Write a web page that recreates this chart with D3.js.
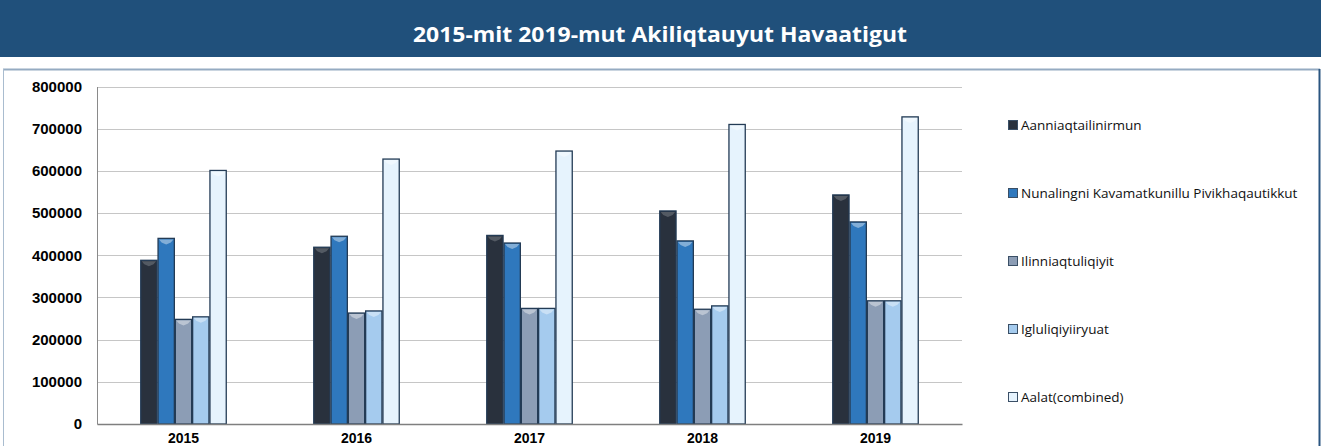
<!DOCTYPE html>
<html>
<head>
<meta charset="utf-8">
<script src="https://cdn.jsdelivr.net/npm/d3@7"></script>
<style>
  body { margin: 0; background: #fff; }
</style>
</head>
<body>
<div id="chart"></div>
<script>
// data
var years = ["2015", "2016", "2017", "2018", "2019"];
var seriesNames = ["Aanniaqtailinirmun", "Nunalingni Kavamatkunillu Pivikhaqautikkut", "Ilinniaqtuliqiyit", "Igluliqiyiiryuat", "Aalat(combined)"];
var aanniaqtailinirmun = [388000, 419000, 447000, 505000, 543000];
var nunalingni = [440000, 445000, 429000, 434000, 479000];
var ilinniaqtuliqiyit = [248000, 263000, 274000, 272000, 292000];
var igluliqiyiiryuat = [254000, 268000, 274000, 280000, 292000];
var aalat = [601000, 628000, 647000, 710000, 728000];
var yTicks = [0, 100000, 200000, 300000, 400000, 500000, 600000, 700000, 800000];

var colors = ["#29313d", "#2f78bd", "#8c9db5", "#a5cbee", "#e6f3fd"];
var allSeries = [aanniaqtailinirmun, nunalingni, ilinniaqtuliqiyit, igluliqiyiiryuat, aalat];

var W = 1321, H = 446;
var plot = { left: 97, right: 962, top: 86.5, bottom: 424 };

var svg = d3.select("#chart").append("svg")
  .attr("width", W).attr("height", H);

// title bar
svg.append("rect").attr("x", 0).attr("y", 0).attr("width", W).attr("height", 57)
  .attr("fill", "#20507b");
svg.append("text").attr("x", 660).attr("y", 42)
  .attr("text-anchor", "middle").attr("fill", "#fff")
  .style("font-family", "'Open Sans', sans-serif")
  .style("font-weight", "bold").style("font-size", "21px")
  .attr("textLength", 494).attr("lengthAdjust", "spacingAndGlyphs")
  .text("2015-mit 2019-mut Akiliqtauyut Havaatigut");

// panel frame
svg.append("line").attr("x1", 3).attr("x2", 1320).attr("y1", 69.5).attr("y2", 69.5)
  .attr("stroke", "#95abc2").attr("stroke-width", 2);
svg.append("line").attr("x1", 3.5).attr("x2", 3.5).attr("y1", 69).attr("y2", H)
  .attr("stroke", "#a9bccf").attr("stroke-width", 1);
svg.append("line").attr("x1", 1319.5).attr("x2", 1319.5).attr("y1", 69).attr("y2", H)
  .attr("stroke", "#2a5580").attr("stroke-width", 2);

var x0 = d3.scaleBand().domain(years).range([plot.left, plot.right])
  .paddingInner(0.5).paddingOuter(0.25);
var x1 = d3.scaleBand().domain(d3.range(seriesNames.length)).range([0, x0.bandwidth()]);
var y = d3.scaleLinear().domain([0, 800000]).range([plot.bottom, plot.top]);

// gridlines
svg.append("g").selectAll("line").data(yTicks.slice(1)).join("line")
  .attr("x1", plot.left).attr("x2", plot.right)
  .attr("y1", function(d) { return Math.round(y(d)) + 0.5; })
  .attr("y2", function(d) { return Math.round(y(d)) + 0.5; })
  .attr("stroke", "#c6c6c6").attr("stroke-width", 1.2);

// y axis
var yAxis = svg.append("g")
  .attr("transform", "translate(" + plot.left + ",0)")
  .call(d3.axisLeft(y).tickValues(yTicks).tickSize(0).tickPadding(15).tickFormat(d3.format("d")));
yAxis.select(".domain").attr("stroke", "#8a8a8a");
yAxis.selectAll("text")
  .style("font-family", "'Liberation Sans', Arial, sans-serif")
  .style("font-size", "15px").style("font-weight", "bold").attr("fill", "#000");

// bars
var groups = svg.append("g").selectAll("g").data(years).join("g")
  .attr("transform", function(d) { return "translate(" + x0(d) + ",0)"; });

groups.each(function(yr, gi) {
  var g = d3.select(this);
  allSeries.forEach(function(s, si) {
    var bx = x1(si), bw = x1.bandwidth(), by = y(s[gi]);
    g.append("rect")
      .attr("x", bx + 0.5).attr("y", by)
      .attr("width", bw - 1).attr("height", y(0) - by)
      .attr("fill", colors[si])
      .attr("stroke", "#233b55").attr("stroke-width", 1.3);
    // bevel highlight on the top
    g.append("path")
      .attr("d", "M" + (bx + 1.5) + "," + (by + 1) + "L" + (bx + bw - 1.5) + "," + (by + 1) +
        "L" + (bx + bw - 4) + "," + (by + 4) + "L" + (bx + bw / 2) + "," + (by + 6) +
        "L" + (bx + 4) + "," + (by + 4) + "Z")
      .attr("fill", "#fff").attr("opacity", si === 0 ? 0.2 : 0.4);
  });
});

// x axis
var xAxis = svg.append("g")
  .attr("transform", "translate(0," + plot.bottom + ")")
  .call(d3.axisBottom(x0).tickSize(0).tickPadding(9));
xAxis.select(".domain").attr("stroke", "#7f7f7f").attr("stroke-width", 1.3);
xAxis.selectAll("text")
  .style("font-family", "'Liberation Sans', Arial, sans-serif")
  .style("font-size", "14px").style("font-weight", "bold").attr("fill", "#000");

// legend
var legendY = d3.scalePoint().domain(d3.range(seriesNames.length)).range([125, 397]);
var legend = svg.append("g").selectAll("g").data(seriesNames).join("g")
  .attr("transform", function(d, i) { return "translate(1008," + legendY(i) + ")"; });
legend.append("rect").attr("x", 0.5).attr("y", -4.5).attr("width", 9).attr("height", 9)
  .attr("fill", function(d, i) { return colors[i]; })
  .attr("stroke", "#3a4f66").attr("stroke-width", 1);
legend.append("text").attr("x", 13).attr("y", 5)
  .style("font-family", "'Open Sans', sans-serif")
  .style("font-size", "13.5px").attr("fill", "#111")
  .text(function(d) { return d; });
</script>
</body>
</html>
